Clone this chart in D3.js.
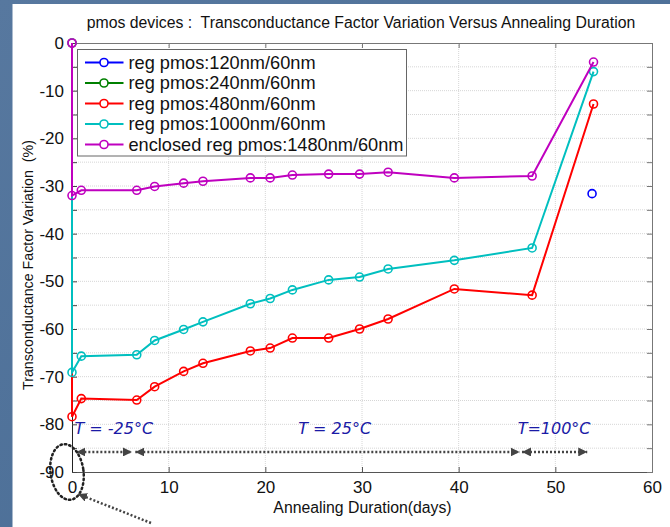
<!DOCTYPE html>
<html>
<head>
<meta charset="utf-8">
<script src="https://cdn.jsdelivr.net/npm/d3@7"></script>
<style>
  html, body { margin: 0; padding: 0; background: #4f7099; }
  svg { display: block; }
  text.pre { white-space: pre; }
</style>
</head>
<body>
<div id="container"></div>
<script>
// days of each measurement (shared by the regular devices)
const days = [0, 0, 0.96, 6.7, 8.55, 11.55, 13.55, 18.45, 20.5, 22.8, 26.55, 29.75, 32.7, 39.55, 47.6, 53.95];
const pmos480 = [0, -78.4, -74.6, -74.9, -72.1, -68.9, -67.2, -64.6, -64.0, -61.9, -61.9, -60.0, -57.9, -51.6, -52.9, -12.8];
const pmos1000 = [0, -69.1, -65.7, -65.4, -62.4, -60.1, -58.5, -54.7, -53.6, -51.8, -49.7, -49.1, -47.4, -45.6, -43.0, -6.0];
const pmos1480 = [0, -32.0, -30.9, -30.9, -30.1, -29.4, -29.0, -28.3, -28.3, -27.7, -27.5, -27.5, -27.1, -28.3, -27.9, -4.0];
const pmos120Days = [53.8];
const pmos120 = [-31.6];

const seriesNames = ["reg pmos:120nm/60nm", "reg pmos:240nm/60nm", "reg pmos:480nm/60nm",
  "reg pmos:1000nm/60nm", "enclosed reg pmos:1480nm/60nm"];
const seriesColors = ["#0000ff", "#008000", "#ff0000", "#00bfbf", "#bf00bf"];

const xTicks = [0, 10, 20, 30, 40, 50, 60];
const yMinorTicks = d3.range(0, -91, -5);

// annealing temperature phases (day ranges)
const phaseLabels = ["T = -25°C", "T = 25°C", "T=100°C"];
const phaseLabelDays = [0.25, 23.4, 46.1];
const phaseSpans = [[0.45, 6.2], [6.55, 46.3], [46.55, 53.3]];
const phaseLevel = -85.8;
const phaseLabelLevel = -82.0;

const width = 670;
const height = 527;
const margin = { top: 43, right: 18, bottom: 55, left: 72 };

const svg = d3.select("#container").append("svg")
  .attr("width", width)
  .attr("height", height);

// slide background
const defs = svg.append("defs");
const bg = defs.append("linearGradient")
  .attr("id", "slide-bg")
  .attr("x1", 0).attr("y1", 0).attr("x2", 1).attr("y2", 1);
bg.append("stop").attr("offset", "0%").attr("stop-color", "#57789f");
bg.append("stop").attr("offset", "100%").attr("stop-color", "#466a93");
svg.append("rect").attr("width", width).attr("height", height).attr("fill", "url(#slide-bg)");
svg.append("rect")
  .attr("x", 12.5).attr("y", 4)
  .attr("width", width - 12.5).attr("height", height - 4)
  .attr("fill", "#ffffff");

const x = d3.scaleLinear()
  .domain([0, 60])
  .range([margin.left, width - margin.right]);

const y = d3.scaleLinear()
  .domain([-90, 0])
  .range([height - margin.bottom, margin.top]);

// grid
svg.append("g")
  .selectAll("line")
  .data(xTicks.slice(1, -1))
  .join("line")
  .attr("x1", d => x(d)).attr("x2", d => x(d))
  .attr("y1", y(0)).attr("y2", y(-90))
  .attr("stroke", "#d6d6d6")
  .attr("stroke-dasharray", "1,1");

svg.append("g")
  .selectAll("line")
  .data(yMinorTicks.slice(1, -1))
  .join("line")
  .attr("x1", x(0)).attr("x2", x(60))
  .attr("y1", d => y(d)).attr("y2", d => y(d))
  .attr("stroke", "#d6d6d6")
  .attr("stroke-dasharray", "1,1");

// axes (ticks point inward, box on)
const axisFont = "'Liberation Sans', Arial, sans-serif";

svg.append("g")
  .attr("transform", `translate(0,${y(-90)})`)
  .call(d3.axisBottom(x).tickValues(xTicks).tickSize(-5).tickPadding(9).tickFormat(d3.format("d")))
  .call(g => g.select(".domain").attr("stroke", "#555"))
  .call(g => g.selectAll(".tick line").attr("stroke", "#555"))
  .call(g => g.selectAll("text").attr("font-size", 17).attr("font-family", axisFont).attr("fill", "#111"));

svg.append("g")
  .attr("transform", `translate(0,${y(0)})`)
  .call(d3.axisTop(x).tickValues(xTicks).tickSize(-5).tickFormat(""))
  .call(g => g.selectAll(".domain, .tick line").attr("stroke", "#777"));

svg.append("g")
  .attr("transform", `translate(${x(0)},0)`)
  .call(d3.axisLeft(y).tickValues(yMinorTicks).tickSize(-5).tickPadding(8)
    .tickFormat(d => d % 10 === 0 ? d : ""))
  .call(g => g.select(".domain").attr("stroke", "#222"))
  .call(g => g.selectAll(".tick line").attr("stroke", "#444"))
  .call(g => g.selectAll("text").attr("font-size", 17).attr("font-family", axisFont).attr("fill", "#111"));

svg.append("g")
  .attr("transform", `translate(${x(60)},0)`)
  .call(d3.axisRight(y).tickValues(yMinorTicks).tickSize(-5).tickFormat(""))
  .call(g => g.selectAll(".domain, .tick line").attr("stroke", "#777"));

// series
const series = [
  { days: pmos120Days, values: pmos120 },
  { days: [], values: [] },
  { days: days, values: pmos480 },
  { days: days, values: pmos1000 },
  { days: days, values: pmos1480 }
];

const line = d3.line()
  .x(d => x(d[0]))
  .y(d => y(d[1]));

series.forEach((s, i) => {
  const pts = s.days.map((d, j) => [d, s.values[j]]);
  const g = svg.append("g");
  g.append("path")
    .datum(pts)
    .attr("fill", "none")
    .attr("stroke", seriesColors[i])
    .attr("stroke-width", 2)
    .attr("d", line);
  g.selectAll("circle")
    .data(pts)
    .join("circle")
    .attr("cx", d => x(d[0]))
    .attr("cy", d => y(d[1]))
    .attr("r", 4)
    .attr("fill", "none")
    .attr("stroke", seriesColors[i])
    .attr("stroke-width", 1.6);
});

// legend
const legend = svg.append("g").attr("transform", "translate(77.5,49.5)");
legend.append("rect")
  .attr("width", 329).attr("height", 106.5)
  .attr("fill", "#fff")
  .attr("stroke", "#666");
const rows = legend.selectAll("g.row")
  .data(seriesNames)
  .join("g")
  .attr("class", "row")
  .attr("transform", (d, i) => `translate(0,${13 + i * 20.5})`);
rows.append("line")
  .attr("x1", 7.5).attr("x2", 46)
  .attr("stroke", (d, i) => seriesColors[i])
  .attr("stroke-width", 2);
rows.append("circle")
  .attr("cx", 26.5).attr("r", 4)
  .attr("fill", "#fff")
  .attr("stroke", (d, i) => seriesColors[i])
  .attr("stroke-width", 1.6);
rows.append("text")
  .attr("x", 51)
  .attr("dy", "0.35em")
  .attr("font-size", 18.2)
  .attr("font-family", axisFont)
  .attr("fill", "#111")
  .text(d => d);

// title and axis labels
svg.append("text")
  .attr("class", "pre")
  .attr("x", 361).attr("y", 28)
  .attr("text-anchor", "middle")
  .attr("font-size", 15.8)
  .attr("font-family", axisFont)
  .attr("fill", "#111")
  .text("pmos devices :  Transconductance Factor Variation Versus Annealing Duration");

svg.append("text")
  .attr("x", 362.5).attr("y", 513)
  .attr("text-anchor", "middle")
  .attr("font-size", 15.8)
  .attr("font-family", axisFont)
  .attr("fill", "#111")
  .text("Annealing Duration(days)");

// the slide squeezes this label along its length
svg.append("text")
  .attr("class", "pre")
  .attr("transform", "translate(33,265) rotate(-90)")
  .attr("text-anchor", "middle")
  .attr("font-size", 15.5)
  .attr("font-family", axisFont)
  .attr("fill", "#111")
  .attr("textLength", 250)
  .attr("lengthAdjust", "spacingAndGlyphs")
  .text("Transconductance Factor Variation  (%)");

// temperature phase annotations
defs.append("marker")
  .attr("id", "head")
  .attr("viewBox", "0 0 10 10")
  .attr("refX", 10).attr("refY", 5)
  .attr("markerWidth", 3.6).attr("markerHeight", 3.6)
  .attr("orient", "auto-start-reverse")
  .append("path")
  .attr("d", "M0,0L10,5L0,10Z")
  .attr("fill", "#444");

svg.append("g")
  .selectAll("line")
  .data(phaseSpans)
  .join("line")
  .attr("x1", d => x(d[0])).attr("x2", d => x(d[1]))
  .attr("y1", y(phaseLevel)).attr("y2", y(phaseLevel))
  .attr("stroke", "#444")
  .attr("stroke-width", 2.5)
  .attr("stroke-dasharray", "2,2")
  .attr("marker-start", "url(#head)")
  .attr("marker-end", "url(#head)");

svg.append("g")
  .selectAll("text")
  .data(phaseLabels)
  .join("text")
  .attr("x", (d, i) => x(phaseLabelDays[i]))
  .attr("y", y(phaseLabelLevel))
  .attr("font-size", 16)
  .attr("font-style", "italic")
  .attr("font-family", "'DejaVu Sans', sans-serif")
  .attr("fill", "#1a1aa6")
  .text(d => d);

// dotted circle around the origin with a pointer
svg.append("ellipse")
  .attr("cx", x(0) - 5).attr("cy", y(-90))
  .attr("rx", 16.5).attr("ry", 28)
  .attr("transform", `rotate(-8,${x(0) - 5},${y(-90)})`)
  .attr("fill", "none")
  .attr("stroke", "#222")
  .attr("stroke-width", 2.5)
  .attr("stroke-dasharray", "1.5,3")
  .attr("stroke-linecap", "round");

svg.append("line")
  .attr("x1", x(0) + 79).attr("y1", y(-90) + 51)
  .attr("x2", x(0) + 6).attr("y2", y(-90) + 22)
  .attr("stroke", "#444")
  .attr("stroke-width", 2.5)
  .attr("stroke-dasharray", "2,2")
  .attr("marker-end", "url(#head)");
</script>
</body>
</html>
